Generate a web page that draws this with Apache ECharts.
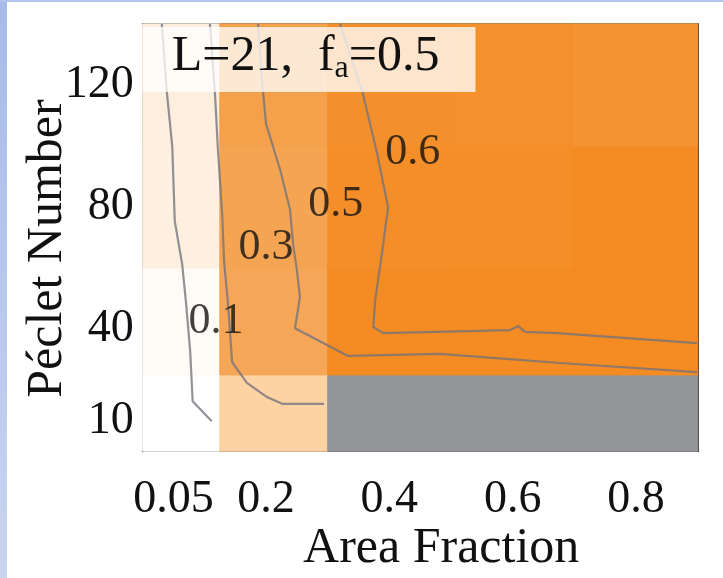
<!DOCTYPE html>
<html>
<head>
<meta charset="utf-8">
<script src="https://cdn.jsdelivr.net/npm/echarts@6/dist/echarts.min.js"></script>
<style>html,body{margin:0;padding:0;background:#fff;}#chart{width:723px;height:578px;}</style>
</head>
<body>
<div id="chart"></div>
<script>
// ---- data ----
const xTickValues = [0.05, 0.2, 0.4, 0.6, 0.8];
const xTickLabels = ['0.05', '0.2', '0.4', '0.6', '0.8'];
const yTickValues = [10, 40, 80, 120];
const yTickLabels = ['10', '40', '80', '120'];
const xEdges = [0, 0.125, 0.3, 0.5, 0.7, 0.9];
const yEdges = [0, 25, 60, 100, 140];
// cell values per Péclet row (null = no data, gray)
const valuesPe10  = [0.0,   0.35,  null,  null,  null];
const valuesPe40  = [0.05,  0.517, 0.69,  0.69,  0.69];
const valuesPe80  = [0.154, 0.525, 0.67,  0.675, 0.69];
const valuesPe120 = [0.175, 0.551, 0.66,  0.655, 0.63];
// contour lines [areaFraction, péclet]
const contour01 = [[0.031,140],[0.039,118],[0.048,99.7],[0.052,75.4],[0.064,61.3],[0.070,49.2],[0.077,32.8],[0.081,16.4],[0.112,9.8]];
const contour03 = [[0.109,140],[0.117,118],[0.122,98.7],[0.129,77.4],[0.132,62.0],[0.138,49.2],[0.145,29.2],[0.169,22.4],[0.201,17.8],[0.227,15.5],[0.294,15.5]];
const contour05 = [[0.187,140],[0.195,118],[0.200,107.3],[0.223,92.1],[0.239,79.0],[0.244,67.6],[0.250,59.4],[0.255,50.5],[0.247,40.3],[0.333,31.2],[0.482,31.9],[0.677,28.9],[0.899,25.9]];
const contour06 = [[0.320,140],[0.339,128.2],[0.356,118],[0.380,97.6],[0.398,79.9],[0.393,72.5],[0.388,64.9],[0.377,49.5],[0.374,40.7],[0.390,38.7],[0.596,39.7],[0.609,41.0],[0.620,39.1],[0.672,38.7],[0.899,35.4]];
const contourLabels = [[0.119,42.6,'0.1'],[0.200,66.9,'0.3'],[0.313,81.0,'0.5'],[0.438,98.0,'0.6']];

// ---- styling ----
const FONT = 'Liberation Serif';
const colorStops = ['#ffffff', '#fdeedd', '#fed3a3', '#f5a452', '#f48a20'];
const vMin = 0, vMax = 0.7;
const missingColor = '#939598';
const lineColor = 'rgba(115,115,124,0.78)';

const rows = [valuesPe10, valuesPe40, valuesPe80, valuesPe120];
const cellData = [];
rows.forEach((row, r) => {
  row.forEach((v, c) => {
    cellData.push([xEdges[c], xEdges[c + 1], yEdges[r], yEdges[r + 1], v === null ? -1 : v]);
  });
});

function cellColor(v) {
  if (v < 0) return missingColor;
  const t = Math.max(0, Math.min(1, (v - vMin) / (vMax - vMin)));
  return echarts.color.lerp(t, colorStops);
}

const chart = echarts.init(document.getElementById('chart'));
const contourSeries = [contour01, contour03, contour05, contour06].map(d => ({
  type: 'line', data: d, showSymbol: false, symbol: 'none', smooth: false,
  lineStyle: { color: lineColor, width: 2.2 }, z: 3, silent: true, clip: true
}));

chart.setOption({
  animation: false,
  backgroundColor: '#ffffff',
  title: {
    text: 'L=21,  f{sub|a}=0.5',
    left: 142.7, top: 23.9,
    padding: [5, 36, 7, 29],
    backgroundColor: 'rgba(255,255,255,0.76)',
    textStyle: {
      fontFamily: FONT, fontSize: 50, fontWeight: 'normal', color: '#111',
      rich: { sub: { fontFamily: FONT, fontSize: 32, color: '#111', padding: [24, 0, 0, 0] } }
    },
    z: 10
  },
  graphic: [
    { type: 'rect', left: 0, top: 0, shape: { width: 7, height: 578 },
      style: { fill: new echarts.graphic.LinearGradient(0, 0, 0, 1, [{ offset: 0, color: '#a6bbe8' }, { offset: 1, color: '#c9d5ef' }]) }, z: 100 },
    { type: 'rect', left: 0, top: 0, shape: { width: 723, height: 2 }, style: { fill: '#b3c4ea' }, z: 100 }
  ],
  grid: { left: 142.7, right: 25.3, top: 23.9, bottom: 126.8, containLabel: false, outerBoundsMode: 'none' },
  xAxis: [{
    type: 'value', min: 0, max: 0.9,
    name: 'Area Fraction', nameLocation: 'middle', nameGap: 73, nameMoveOverlap: false,
    nameTextStyle: { fontFamily: FONT, fontSize: 50, color: '#111', padding: [0, 0, 0, 42] },
    axisLine: { show: true, onZero: false, lineStyle: { color: '#444', width: 2 } },
    axisTick: { show: true, inside: true, length: 8, customValues: xTickValues, lineStyle: { color: '#333', width: 2 } },
    axisLabel: { show: true, margin: 26, customValues: xTickValues, hideOverlap: false,
      formatter: v => xTickLabels[xTickValues.findIndex(t => Math.abs(t - v) < 1e-9)],
      fontFamily: FONT, fontSize: 46, color: '#111' },
    splitLine: { show: false }
  }, {
    type: 'value', min: 0, max: 0.9, position: 'top',
    axisLine: { show: true, onZero: false, lineStyle: { color: '#777', width: 2 } },
    axisTick: { show: false }, axisLabel: { show: false }, splitLine: { show: false }
  }],
  yAxis: [{
    type: 'value', min: 0, max: 140,
    name: 'Péclet Number', nameLocation: 'middle', nameGap: 70, nameMoveOverlap: false,
    nameTextStyle: { fontFamily: FONT, fontSize: 50, color: '#111', padding: [0, 22, 0, 0] },
    axisLine: { show: true, onZero: false, lineStyle: { color: '#444', width: 2 } },
    axisTick: { show: true, inside: true, length: 9, customValues: yTickValues, lineStyle: { color: '#333', width: 2 } },
    axisLabel: { show: true, margin: 9, customValues: yTickValues, hideOverlap: false,
      formatter: v => yTickLabels[yTickValues.findIndex(t => Math.abs(t - v) < 1e-9)],
      fontFamily: FONT, fontSize: 46, color: '#111', padding: [10, 0, 0, 0] },
    splitLine: { show: false }
  }, {
    type: 'value', min: 0, max: 140, position: 'right',
    axisLine: { show: true, onZero: false, lineStyle: { color: '#444', width: 2 } },
    axisTick: { show: false }, axisLabel: { show: false }, splitLine: { show: false }
  }],
  series: [
    {
      type: 'custom', z: 1, silent: true,
      encode: { x: [0, 1], y: [2, 3] },
      data: cellData,
      renderItem: function (params, api) {
        const p0 = api.coord([api.value(0), api.value(3)]);
        const p1 = api.coord([api.value(1), api.value(2)]);
        const c = cellColor(api.value(4));
        return {
          type: 'rect',
          shape: { x: p0[0], y: p0[1], width: p1[0] - p0[0], height: p1[1] - p0[1] },
          style: { fill: c, stroke: c, lineWidth: 1 }
        };
      }
    },
    ...contourSeries,
    {
      type: 'scatter', z: 5, silent: true,
      data: contourLabels.map(d => ({ value: [d[0], d[1]], name: d[2] })),
      symbol: 'circle', symbolSize: 1, itemStyle: { color: 'rgba(0,0,0,0)' },
      label: { show: true, position: 'inside', formatter: p => p.name, fontFamily: FONT, fontSize: 44, color: '#111' }
    }
  ]
});
</script>
</body>
</html>
